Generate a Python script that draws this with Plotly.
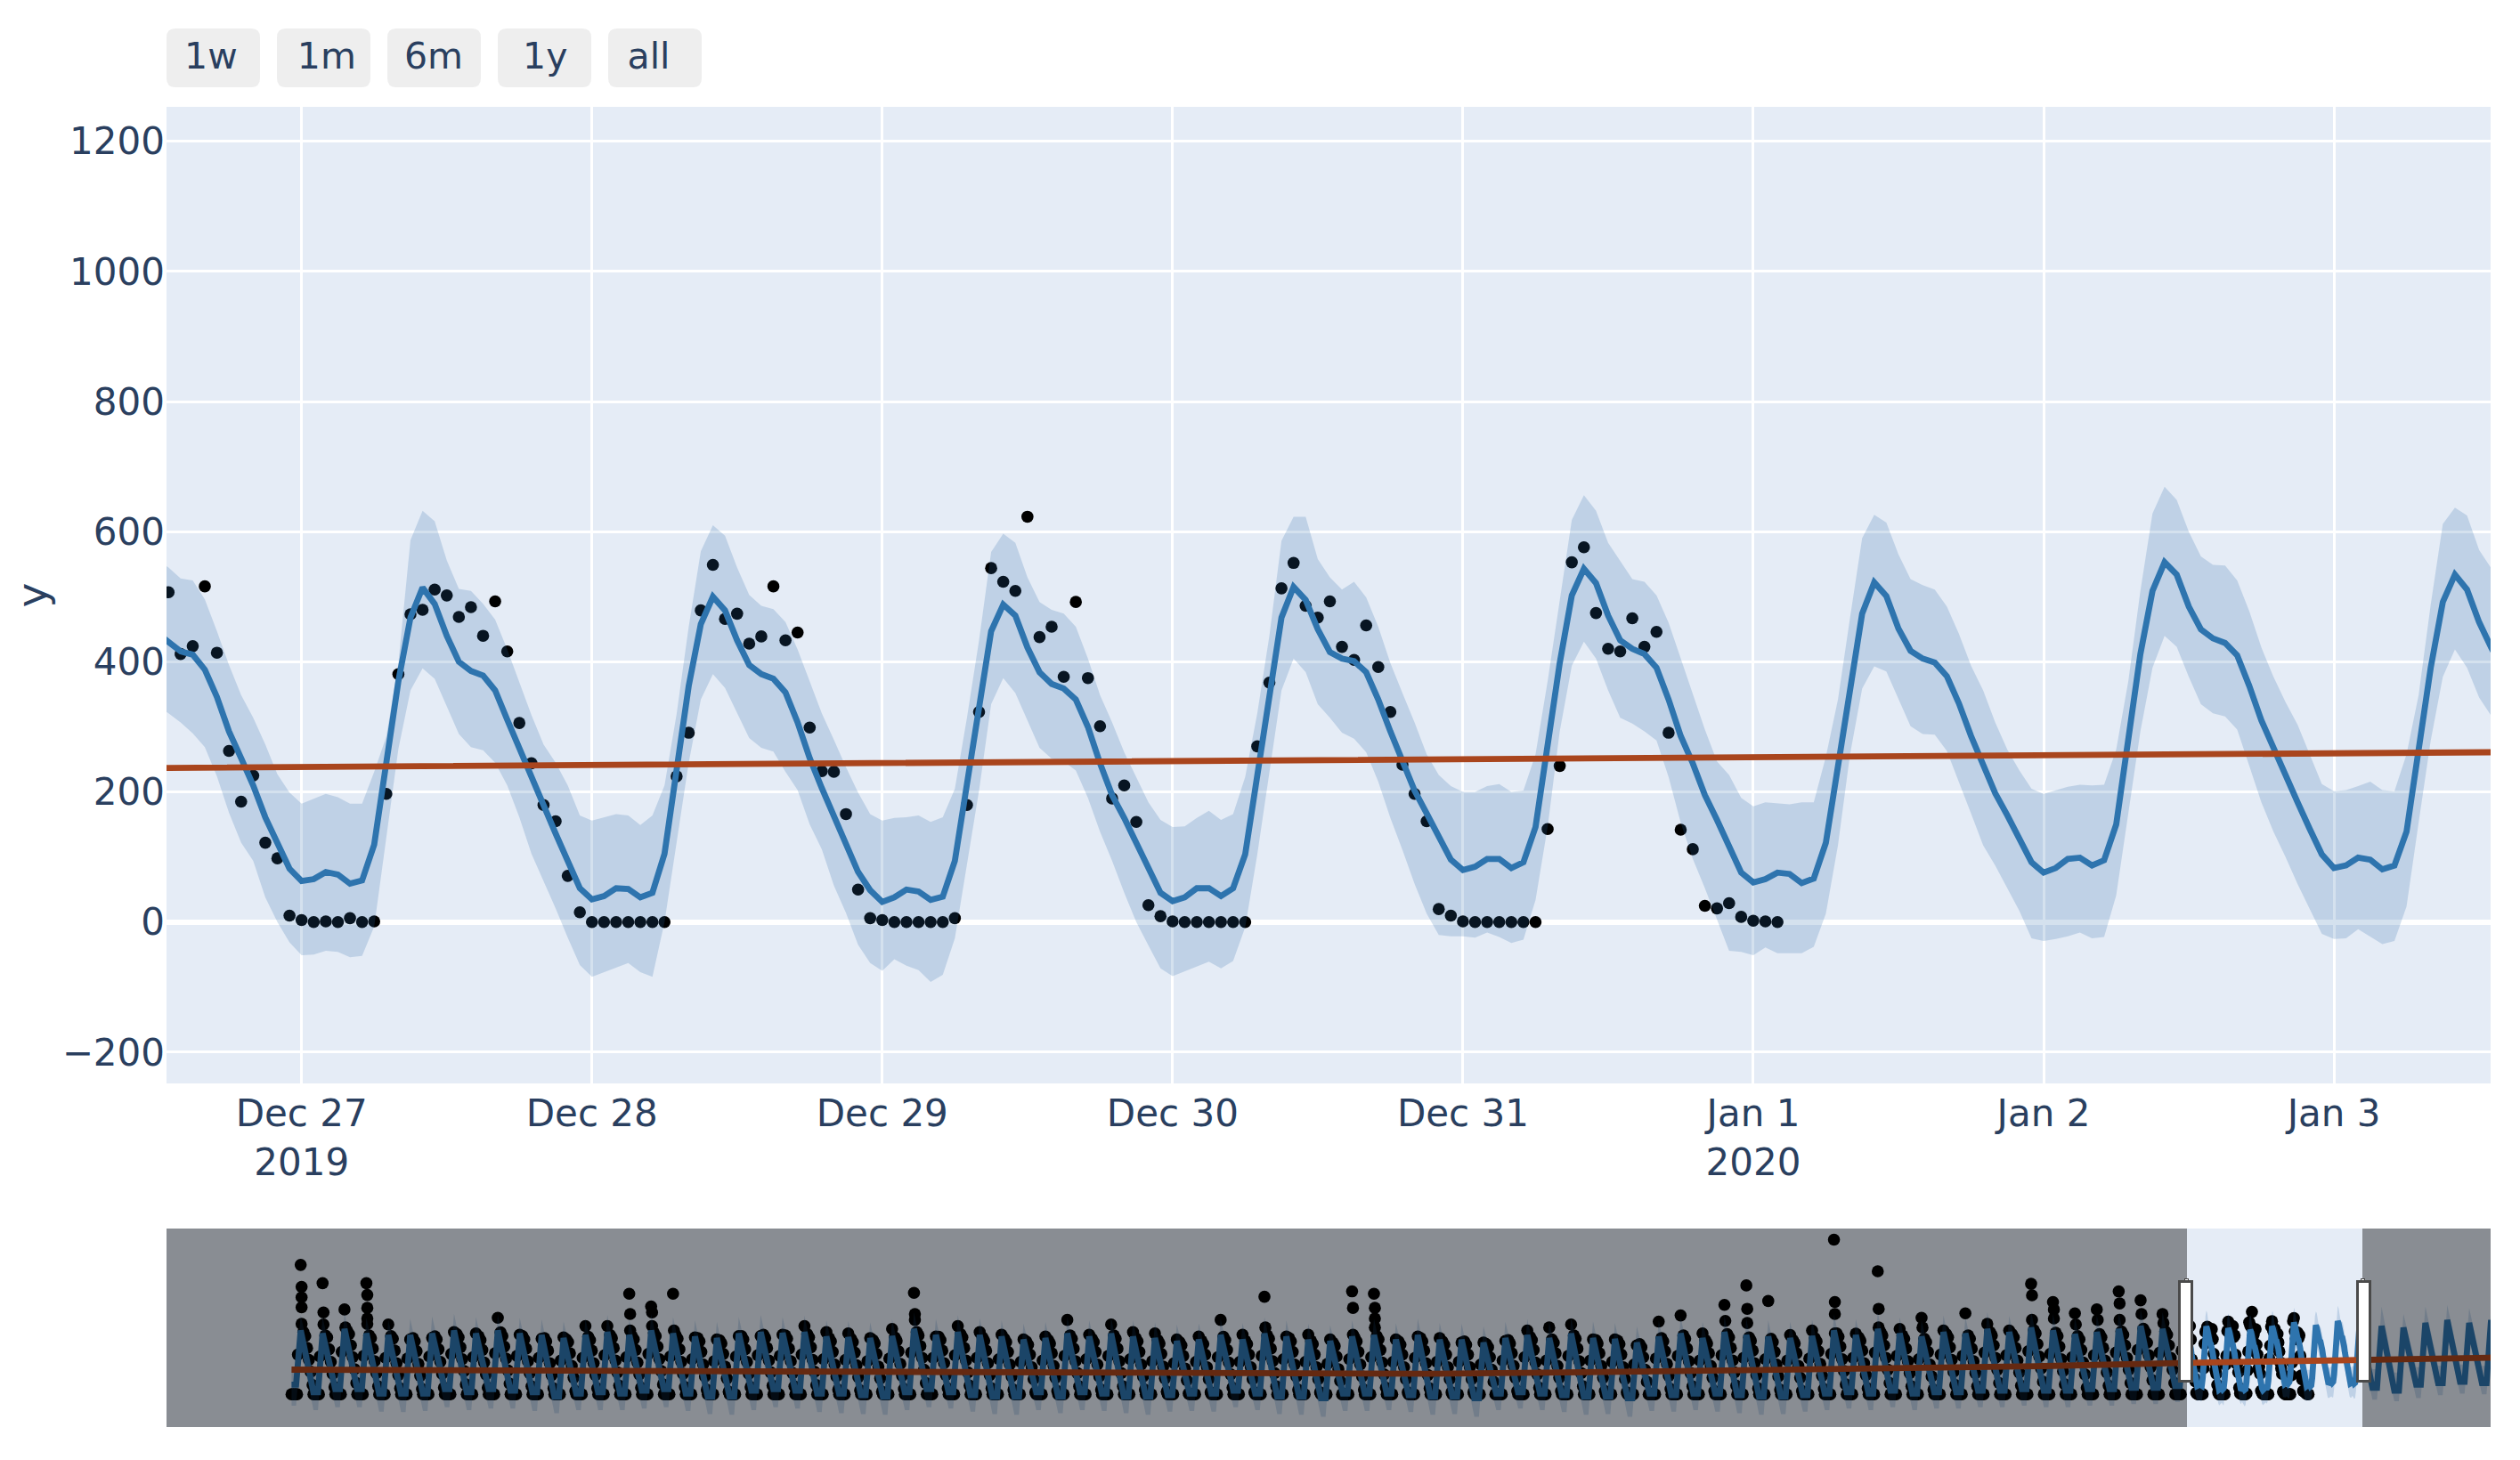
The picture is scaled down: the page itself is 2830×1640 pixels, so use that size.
import pandas as pd
import plotly.graph_objects as go

# hourly forecast shown in the zoomed window, from 2019-12-26 12:00
yhat_hourly = [
    445, 431, 416, 411, 388, 346, 293, 252, 210, 161, 122, 82,
    63, 66, 77, 73, 59, 64, 119, 245, 370, 468, 514, 489, 440, 400, 386, 379, 356, 311, 266, 224, 178, 136, 94, 52,
    35, 40, 52, 51, 38, 45, 105, 231, 363, 458, 500, 479, 433, 395, 381, 374, 353, 307, 252, 206, 161, 119, 77, 49,
    31, 38, 50, 47, 34, 39, 94, 212, 324, 447, 488, 471, 422, 384, 366, 359, 342, 300, 244, 195, 160, 122, 83, 45,
    32, 38, 52, 52, 40, 52, 104, 223, 342, 468, 515, 495, 450, 415, 405, 401, 384, 342, 293, 247, 202, 167, 132, 96,
    80, 85, 97, 97, 83, 92, 146, 272, 398, 502, 543, 521, 471, 433, 420, 412, 391, 342, 286, 244, 195, 157, 118, 76,
    61, 66, 76, 74, 60, 67, 122, 237, 363, 474, 522, 501, 451, 417, 405, 399, 378, 336, 286, 244, 198, 164, 129, 92,
    76, 83, 97, 99, 87, 95, 150, 279, 412, 509, 553, 534, 485, 450, 436, 429, 410, 363, 310, 268, 223, 184, 143, 104,
    83, 87, 99, 96, 81, 87, 139, 268, 391, 492, 534, 511, 461, 422,
]
upper_hourly = [
    556, 545, 528, 525, 496, 447, 395, 349, 314, 273, 227, 199,
    182, 190, 197, 192, 182, 182, 231, 285, 398, 587, 632, 616, 556, 512, 509, 489, 465, 419, 367, 318, 273, 245, 210, 164,
    156, 161, 166, 164, 149, 164, 210, 320, 454, 570, 610, 594, 545, 503, 486, 481, 461, 419, 371, 321, 280, 238, 199, 166,
    156, 160, 161, 164, 154, 161, 205, 314, 433, 569, 597, 583, 530, 492, 480, 474, 454, 405, 349, 307, 261, 223, 184, 157,
    146, 147, 160, 171, 157, 166, 223, 321, 440, 586, 623, 623, 558, 530, 511, 523, 499, 454, 398, 352, 307, 258, 226, 209,
    200, 200, 209, 212, 200, 202, 258, 370, 495, 618, 656, 632, 583, 555, 527, 523, 502, 460, 405, 352, 296, 247, 226, 191,
    178, 184, 183, 181, 184, 184, 254, 342, 468, 590, 626, 614, 565, 527, 518, 511, 485, 443, 394, 356, 307, 265, 233, 205,
    197, 202, 208, 211, 210, 211, 265, 370, 509, 628, 669, 649, 600, 562, 549, 548, 525, 478, 422, 377, 338, 303, 258, 212,
    201, 203, 209, 216, 203, 201, 258, 349, 488, 612, 637, 625, 572, 544,
]
lower_hourly = [
    332, 321, 307, 290, 269, 224, 168, 122, 94, 38, 0, -31,
    -51, -50, -44, -46, -54, -52, -7, 126, 266, 356, 390, 374, 332, 289, 269, 264, 245, 210, 161, 105, 63, 21, -24, -66,
    -84, -77, -70, -63, -77, -84, 0, 122, 245, 342, 381, 360, 321, 283, 268, 262, 231, 203, 150, 112, 56, 14, -35, -63,
    -75, -57, -67, -74, -92, -81, -25, 90, 202, 335, 375, 352, 310, 268, 251, 247, 233, 191, 139, 94, 45, 0, -36, -71,
    -83, -76, -69, -61, -71, -60, -8, 104, 230, 356, 405, 384, 335, 314, 291, 282, 261, 216, 160, 111, 59, 13, -20, -22,
    -22, -24, -16, -23, -32, -27, 34, 146, 293, 394, 431, 405, 356, 314, 305, 293, 279, 223, 153, 97, 52, 3, -44, -46,
    -51, -39, -48, -48, -48, -38, 13, 118, 258, 359, 393, 385, 342, 301, 289, 288, 263, 216, 167, 118, 87, 52, 17, -25,
    -29, -26, -22, -16, -25, -23, 41, 167, 293, 391, 440, 423, 377, 335, 321, 316, 296, 240, 184, 139, 100, 58, 20, -18,
    -26, -25, -11, -22, -34, -29, 24, 153, 279, 377, 419, 391, 345, 317,
]
# hourly actuals, from 2019-12-26 13:00
actual_hourly = [
    507, 412, 424, 516, 414, 263, 185, 225, 122, 98, 10,
    3, 0, 1, 0, 6, 0, 1, 197, 381, 473, 480, 511, 502, 469, 484, 440, 493, 416, 306, 244, 180, 155, 71, 15,
    0, 0, 0, 0, 0, 0, 0, 224, 291, 479, 549, 466, 474, 428, 439, 516, 433, 445, 299, 232, 231, 166, 50, 6,
    3, 0, 0, 0, 0, 0, 6, 180, 323, 544, 523, 509, 623, 438, 454, 377, 492, 375, 301, 190, 210, 154, 26, 9,
    1, 0, 0, 0, 0, 0, 0, 270, 368, 513, 552, 486, 468, 493, 423, 403, 456, 392, 323, 242, 197, 155, 20, 10,
    1, 0, 0, 0, 0, 0, 0, 143, 240, 553, 576, 475, 420, 416, 467, 423, 446, 291, 142, 112, 25, 21, 29, 8,
    2, 1, 0,
]

# daily readings for the history that only shows in the range slider (Oct 1 - Dec 26)
hist_yhat_peak = [
    482, 460, 494, 460, 448, 448, 460, 482, 460, 482, 460, 448, 425, 448, 471, 448, 482, 460, 437, 425,
    460, 471, 464, 471, 437, 432, 425, 441, 494, 448, 471, 448, 437, 414, 425, 460, 437, 460, 437, 425,
    403, 414, 448, 414, 460, 437, 414, 403, 437, 448, 414, 448, 414, 414, 391, 425, 448, 425, 460, 425,
    419, 391, 437, 460, 425, 471, 448, 437, 425, 441, 482, 448, 494, 460, 437, 471, 460, 494, 471, 505,
    482, 455, 471, 494, 516, 494, 516,
]
hist_yhat_low = [
    73, 16, 39, 39, 5, 5, 5, 39, 16, 39, 27, 16, -18, 5, 16, 5, 27, 39, 5, -18,
    -18, 27, 39, 27, 5, 5, -7, -18, 16, 39, 16, -7, -18, -18, 16, -18, 16, 5, -18, -18,
    -7, 5, 5, 27, 5, -18, -18, -30, 5, 5, 5, -7, -18, -18, -30, 5, 16, 5, -7, -18,
    -18, -30, 5, -7, 5, 5, -7, -18, -18, -7, 5, 16, 5, 27, 5, 16, 16, 27, 27, 39,
    27, 27, 39, 39, 50, 50, 63,
]
hist_upper_peak = [
    600, 585, 618, 580, 565, 572, 590, 610, 585, 603, 578, 566, 552, 570, 600, 568, 607, 585, 560, 548,
    585, 600, 585, 595, 560, 555, 545, 568, 618, 570, 598, 575, 560, 535, 548, 585, 560, 583, 558, 545,
    528, 536, 572, 540, 585, 560, 535, 522, 560, 572, 538, 572, 540, 535, 515, 548, 570, 548, 585, 552,
    540, 512, 560, 585, 548, 595, 570, 560, 548, 565, 608, 570, 620, 583, 560, 597, 583, 620, 594, 632,
    608, 578, 597, 620, 645, 622, 640,
]
hist_lower_peak = [
    360, 345, 372, 340, 330, 325, 340, 360, 338, 362, 345, 330, 305, 325, 350, 330, 360, 338, 320, 305,
    342, 350, 345, 352, 318, 312, 305, 322, 372, 330, 350, 328, 318, 295, 305, 340, 318, 342, 318, 305,
    285, 295, 330, 295, 340, 320, 295, 285, 318, 330, 295, 330, 295, 295, 272, 305, 330, 305, 340, 305,
    300, 272, 318, 340, 305, 350, 330, 318, 305, 322, 360, 330, 372, 340, 318, 350, 340, 372, 350, 385,
    360, 335, 350, 372, 395, 372, 392,
]
hist_upper_low = [
    195, 165, 152, 160, 130, 132, 128, 165, 140, 162, 150, 142, 108, 128, 140, 130, 150, 165, 130, 108,
    105, 150, 165, 150, 130, 128, 118, 108, 142, 162, 140, 118, 108, 105, 140, 108, 142, 130, 105, 108,
    118, 130, 128, 150, 130, 108, 105, 95, 130, 128, 130, 118, 108, 105, 92, 130, 140, 130, 118, 108,
    105, 92, 130, 118, 130, 130, 118, 108, 105, 118, 130, 140, 130, 150, 128, 140, 140, 150, 150, 165,
    150, 150, 165, 165, 175, 175, 188,
]
hist_lower_low = [
    -86, -120, -98, -98, -132, -136, -127, -98, -120, -109, -109, -127, -143, -120, -120, -120, -109, -98, -127, -150,
    -155, -120, -98, -109, -136, -143, -150, -155, -120, -98, -109, -132, -150, -155, -120, -143, -120, -127, -143, -155,
    -132, -127, -132, -98, -120, -150, -155, -170, -127, -127, -120, -136, -155, -150, -170, -120, -109, -120, -136, -155,
    -150, -170, -127, -132, -120, -132, -143, -155, -150, -132, -120, -109, -120, -98, -120, -109, -109, -98, -98, -86,
    -98, -98, -86, -86, -75, -75, -60,
]
hist_top = [
    978, 840, 641, 840, 528, 414, 426, 470, 460, 578, 450, 420, 430, 516, 516, 760, 664, 760, 430, 414,
    440, 440, 450, 516, 470, 460, 425, 494, 767, 437, 516, 470, 450, 414, 437, 562, 450, 528, 470, 460,
    414, 437, 562, 450, 737, 437, 450, 414, 778, 760, 414, 437, 425, 391, 391, 403, 482, 505, 528, 414,
    414, 370, 550, 596, 460, 676, 823, 705, 448, 482, 1169, 459, 930, 494, 578, 482, 612, 532, 482, 835,
    698, 612, 641, 778, 710, 607, 550,
]
hist_midday = [
    470, 445, 478, 445, 440, 425, 438, 455, 438, 468, 440, 425, 415, 435, 448, 438, 465, 445, 425, 408,
    440, 450, 445, 455, 425, 420, 410, 430, 470, 435, 455, 430, 420, 400, 410, 445, 420, 445, 425, 410,
    395, 405, 435, 405, 445, 425, 405, 390, 425, 440, 400, 425, 400, 400, 380, 410, 435, 415, 445, 410,
    405, 380, 425, 445, 410, 455, 430, 420, 410, 425, 460, 430, 470, 445, 420, 455, 445, 470, 455, 485,
    465, 440, 455, 475, 495, 475, 490,
]
hist_after = [
    440, 430, 455, 425, 420, 400, 415, 430, 410, 440, 415, 400, 395, 410, 425, 415, 440, 420, 400, 385,
    415, 425, 420, 430, 400, 395, 385, 405, 445, 410, 430, 405, 395, 375, 385, 420, 395, 420, 400, 385,
    370, 380, 410, 380, 420, 400, 380, 365, 400, 415, 375, 400, 375, 375, 355, 385, 410, 390, 420, 385,
    380, 355, 400, 420, 385, 430, 405, 395, 385, 400, 435, 405, 445, 420, 395, 430, 420, 445, 430, 460,
    440, 415, 430, 450, 470, 450, 465,
]
hist_evening = [
    350, 340, 370, 345, 330, 325, 340, 355, 335, 360, 345, 330, 310, 330, 350, 335, 360, 340, 320, 305,
    340, 350, 345, 355, 320, 315, 305, 325, 365, 330, 350, 330, 320, 300, 310, 345, 320, 345, 320, 305,
    290, 300, 335, 300, 345, 320, 300, 285, 320, 335, 300, 330, 300, 300, 280, 310, 335, 310, 345, 310,
    300, 280, 325, 345, 310, 350, 330, 320, 310, 325, 360, 330, 370, 345, 320, 355, 345, 370, 350, 380,
    360, 335, 350, 370, 390, 370, 385,
]
hist_late = [
    260, 245, 280, 250, 235, 230, 245, 265, 240, 270, 250, 235, 215, 235, 255, 240, 265, 245, 225, 210,
    245, 255, 250, 260, 225, 220, 210, 230, 275, 235, 255, 235, 225, 205, 215, 250, 225, 250, 225, 210,
    195, 205, 240, 205, 250, 225, 205, 190, 225, 240, 205, 235, 205, 205, 185, 215, 240, 215, 250, 215,
    205, 185, 230, 250, 215, 255, 235, 225, 215, 230, 265, 235, 275, 250, 225, 260, 250, 275, 255, 285,
    265, 240, 255, 275, 295, 275, 290,
]
hist_dusk = [
    170, 155, 190, 160, 145, 140, 155, 175, 150, 180, 160, 145, 125, 145, 165, 150, 175, 155, 135, 120,
    155, 165, 160, 170, 135, 130, 120, 140, 185, 145, 165, 145, 135, 115, 125, 160, 135, 160, 135, 120,
    105, 115, 150, 115, 160, 135, 115, 100, 135, 150, 115, 145, 115, 115, 95, 125, 150, 125, 160, 125,
    115, 95, 140, 160, 125, 165, 145, 135, 125, 140, 175, 145, 185, 160, 135, 170, 160, 185, 165, 195,
    175, 150, 165, 185, 205, 185, 200,
]
hist_night = [
    70, 55, 85, 60, 45, 40, 50, 75, 50, 80, 60, 45, 25, 45, 65, 50, 75, 55, 35, 20,
    55, 65, 60, 70, 35, 30, 20, 40, 85, 45, 65, 45, 35, 15, 25, 60, 35, 60, 35, 20,
    5, 15, 50, 15, 60, 35, 15, 0, 35, 50, 15, 45, 15, 15, 0, 25, 50, 25, 60, 25,
    15, 0, 40, 60, 25, 65, 45, 35, 25, 40, 75, 45, 85, 60, 35, 70, 60, 85, 65, 95,
    75, 50, 65, 85, 105, 85, 100,
]
hist_rise = [
    300, 285, 320, 290, 275, 270, 285, 305, 280, 310, 290, 275, 255, 275, 295, 280, 305, 285, 265, 250,
    285, 295, 290, 300, 265, 260, 250, 270, 315, 275, 295, 275, 265, 245, 255, 290, 265, 290, 265, 250,
    235, 245, 280, 245, 290, 265, 245, 230, 265, 280, 245, 275, 245, 245, 225, 255, 280, 255, 290, 255,
    245, 225, 270, 290, 255, 295, 275, 265, 255, 270, 305, 275, 315, 290, 265, 300, 290, 315, 295, 325,
    305, 280, 295, 315, 335, 315, 330,
]
# dots above the daily top, as (day index, value)
outlier_day = [0, 0, 0, 0, 1, 1, 2, 3, 3, 3, 3, 15, 15, 16, 16, 17, 28, 28, 44, 48, 48, 49, 49, 49, 65, 66, 66,
               70, 70, 70, 72, 72, 74, 79, 79, 80, 80, 81, 82, 83, 83, 84, 85, 86]
outlier_y = [812, 733, 657, 532, 619, 528, 505, 751, 653, 573, 532, 607, 482, 619, 516, 482, 607, 562, 505, 653, 450,
             653, 573, 505, 555, 646, 539, 698, 607, 460, 646, 505, 505, 748, 562, 641, 573, 528, 562, 687, 562, 607, 539, 482]

# forecast past the zoomed window, Jan 4 - Jan 9
future_yhat_peak = [516, 505, 539, 562, 539, 562]
future_yhat_low = [50, 27, 73, 84, 95, 85]
future_upper_peak = [664, 607, 664, 676, 653, 642]
future_upper_low = [190, 165, 205, 215, 225, 215]
future_lower_peak = [395, 385, 415, 440, 420, 440]
future_lower_low = [-41, -52, -29, -7, 5, 0]

trend_dates = ["2019-10-01", "2019-10-15", "2019-11-07", "2019-11-22", "2019-11-30", "2019-12-10", "2019-12-20",
               "2019-12-26 13:00", "2020-01-03 13:00", "2020-01-09 10:00"]
trend_values = [186, 180, 164, 155, 168, 186, 213, 237, 261, 277]

button_labels = ["1w", "1m", "6m", "1y", "all"]
button_counts = [7, 1, 6, 1, None]
button_steps = ["day", "month", "month", "year", "all"]
button_leads = [2, 2, 2, 3, 2]
button_trails = [2, 1, 1, 2, 3]

hist_days = pd.date_range("2019-10-01", periods=len(hist_yhat_peak), freq="D")
future_days = pd.date_range("2020-01-04", periods=len(future_yhat_peak), freq="D")
hourly_dates = pd.date_range("2019-12-26 12:00", periods=len(yhat_hourly), freq="h")
actual_dates = pd.date_range("2019-12-26 13:00", periods=len(actual_hourly), freq="h")


def daily_points(days, low, peak):
    xs, ys = [], []
    for day, lo, hi in zip(days, low, peak):
        xs += [day, day + pd.Timedelta(hours=5), day + pd.Timedelta(hours=10)]
        ys += [lo, lo, hi]
    return xs, ys


def forecast_series(hist_low, hist_peak, hourly, fut_low, fut_peak):
    hx, hy = daily_points(hist_days, hist_low, hist_peak)
    fx, fy = daily_points(future_days, fut_low, fut_peak)
    return hx + list(hourly_dates) + fx, hy + hourly + fy


yhat_x, yhat_y = forecast_series(hist_yhat_low, hist_yhat_peak, yhat_hourly, future_yhat_low, future_yhat_peak)
upper_x, upper_y = forecast_series(hist_upper_low, hist_upper_peak, upper_hourly, future_upper_low, future_upper_peak)
lower_x, lower_y = forecast_series(hist_lower_low, hist_lower_peak, lower_hourly, future_lower_low, future_lower_peak)

actual_x, actual_y = [], []
for i, day in enumerate(hist_days):
    for hour, value in [(0, 0), (2, 0), (4, 0), (6, 0), (7, hist_rise[i]), (10, hist_top[i]), (13, hist_midday[i]),
                        (15, hist_after[i]), (17, hist_evening[i]), (19, hist_late[i]), (21, hist_dusk[i]),
                        (23, hist_night[i])]:
        t = day + pd.Timedelta(hours=hour)
        if t < actual_dates[0]:
            actual_x.append(t)
            actual_y.append(value)
for d, value in zip(outlier_day, outlier_y):
    actual_x.append(hist_days[d] + pd.Timedelta(hours=11))
    actual_y.append(value)
actual_x += list(actual_dates)
actual_y += actual_hourly

BAND = "rgba(40, 105, 170, 0.2)"
FONT = "DejaVu Sans"

fig = go.Figure()
fig.add_trace(go.Scatter(name="Actual", x=actual_x, y=actual_y, mode="markers",
                         marker=dict(color="black", size=13.6)))
fig.add_trace(go.Scatter(name="Lower Bound", x=lower_x, y=lower_y, mode="lines", line=dict(width=0),
                         hoverinfo="skip"))
fig.add_trace(go.Scatter(name="Predicted", x=yhat_x, y=yhat_y, mode="lines",
                         line=dict(color="#2E74AE", width=6.8), fill="tonexty", fillcolor=BAND))
fig.add_trace(go.Scatter(name="Upper Bound", x=upper_x, y=upper_y, mode="lines", line=dict(width=0),
                         fill="tonexty", fillcolor=BAND, hoverinfo="skip"))
fig.add_trace(go.Scatter(name="Trend", x=trend_dates, y=trend_values, mode="lines",
                         line=dict(color="#A9451D", width=6.8)))

# plot area is 2610 x 1096 px, shapes below are placed relative to it
W, H = 2610, 1096


def rounded_rect(x0, x1, y0, y1, r=10):
    rx, ry = r / W, r / H
    x0, x1, y0, y1 = x0 / W, x1 / W, y0 / H, y1 / H
    return (f"M {x0 + rx} {y0} L {x1 - rx} {y0} Q {x1} {y0} {x1} {y0 + ry} L {x1} {y1 - ry} Q {x1} {y1} {x1 - rx} {y1} "
            f"L {x0 + rx} {y1} Q {x0} {y1} {x0} {y1 - ry} L {x0} {y0 + ry} Q {x0} {y0} {x0 + rx} {y0} Z")


# rounded backgrounds behind the range selector labels
shapes = []
for i in range(len(button_labels)):
    shapes.append(dict(type="path", xref="paper", yref="paper", fillcolor="#EEEEEE", line=dict(width=0), layer="below",
                       path=rounded_rect(i * 124, i * 124 + 105, H + 22, H + 88)))

# wider slider grabbers drawn over the built-in ones
grabbers = []
for left in [2259, 2459]:
    grabbers.append(dict(text=" ", xref="paper", yref="paper", x=left / W, y=-221 / H, xanchor="left", yanchor="top",
                         width=11, height=109, bgcolor="white", bordercolor="#4a4a4a", borderwidth=3, borderpad=0,
                         showarrow=False))

buttons = []
for label, count, step, lead, trail in zip(button_labels, button_counts, button_steps, button_leads, button_trails):
    text = "\u00a0" * lead + label + "\u00a0" * trail
    if step == "all":
        buttons.append(dict(label=text, step="all"))
    else:
        buttons.append(dict(label=text, count=count, step=step))

fig.update_layout(
    template="plotly",
    width=2814,
    height=1624,
    margin=dict(l=179, r=25, t=112, b=29),
    showlegend=False,
    font=dict(family=FONT, size=42, color="#2a3f5f"),
    shapes=shapes,
    annotations=grabbers,
    xaxis=dict(
        type="date",
        automargin=False,
        range=["2019-12-26 12:50", "2020-01-03 12:57"],
        gridcolor="white",
        gridwidth=3,
        ticks="outside",
        ticklen=148,
        tickcolor="rgba(0,0,0,0)",
        ticklabelstandoff=-151,
        rangeselector=dict(
            buttons=buttons,
            bgcolor="rgba(0,0,0,0)",
            activecolor="rgba(0,0,0,0)",
            x=-11 / W,
            y=1.012,
            yanchor="bottom",
            font=dict(size=41, color="#2a3f5f"),
        ),
        rangeslider=dict(
            visible=True,
            thickness=0.1504,
            range=["2019-09-25 07:00", "2020-01-09 09:30"],
            yaxis=dict(rangemode="match"),
        ),
    ),
    yaxis=dict(
        automargin=False,
        range=[-248, 1253],
        tick0=0,
        dtick=200,
        gridcolor="white",
        gridwidth=3,
        ticklabelstandoff=1,
        zerolinecolor="white",
        zerolinewidth=6,
        title=dict(text="y", font=dict(size=47)),
    ),
)

fig.write_html("out.html")
